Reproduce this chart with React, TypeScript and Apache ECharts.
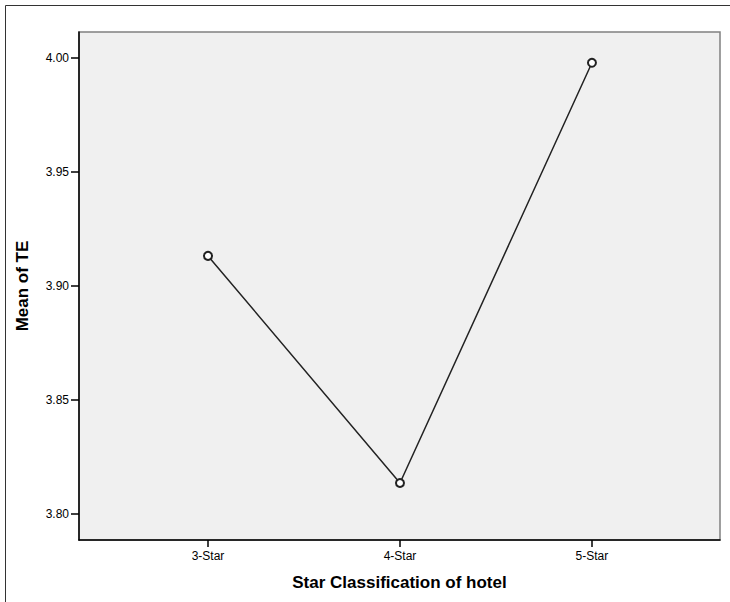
import React, { useEffect, useRef } from "react";
import * as echarts from "echarts";

const categories = ["3-Star", "4-Star", "5-Star"];
const meanTE = [3.9132, 3.8136, 3.9979];
const yTicks = [3.8, 3.85, 3.9, 3.95, 4.0];
const xTitle = "Star Classification of hotel";
const yTitle = "Mean of TE";

export default function App() {
  const ref = useRef<HTMLDivElement>(null);
  useEffect(() => {
    if (!ref.current) return;
    const chart = echarts.init(ref.current, null, { renderer: "svg" });
    const font = "'Liberation Sans', Arial, sans-serif";
    chart.setOption({
      animation: false,
      backgroundColor: "#ffffff",
      textStyle: { fontFamily: font },
      grid: {
        left: 79,
        right: 10,
        top: 32,
        bottom: 62,
        show: true,
        backgroundColor: "#f0f0f0",
        borderColor: "#808080",
        borderWidth: 1.5,
      },
      graphic: [
        {
          type: "rect",
          shape: { x: 5.5, y: 5.5, width: 900, height: 900 },
          style: { fill: "none", stroke: "#333", lineWidth: 1 },
          silent: true,
          z: -10,
        },
      ],
      xAxis: {
        type: "value",
        min: 0.328,
        max: 3.667,
        name: xTitle,
        nameLocation: "middle",
        nameGap: 34,
        nameTextStyle: { fontSize: 17, fontWeight: "bold", color: "#000", fontFamily: font, verticalAlign: "top" },
        axisLine: { show: true, onZero: false, lineStyle: { color: "#000", width: 1.5 } },
        axisTick: { show: true, length: 7, customValues: [1, 2, 3], lineStyle: { color: "#000", width: 1.5 } },
        axisLabel: {
          customValues: [1, 2, 3],
          formatter: (v: number) => categories[Math.round(v) - 1] ?? "",
          fontSize: 12,
          color: "#000",
          margin: 10,
          fontFamily: font,
        },
        splitLine: { show: false },
      },
      yAxis: {
        type: "value",
        min: 3.7886,
        max: 4.0114,
        name: yTitle,
        nameLocation: "middle",
        nameGap: 48,
        nameRotate: 90,
        nameTextStyle: { fontSize: 17, fontWeight: "bold", color: "#000", fontFamily: font },
        axisLine: { show: true, onZero: false, lineStyle: { color: "#000", width: 1.5 } },
        axisTick: { show: true, length: 8, customValues: yTicks, lineStyle: { color: "#000", width: 1.5 } },
        axisLabel: {
          customValues: yTicks,
          formatter: (v: number) => v.toFixed(2),
          fontSize: 12,
          color: "#000",
          margin: 10,
          fontFamily: font,
        },
        splitLine: { show: false },
      },
      series: [
        {
          type: "line",
          data: meanTE.map((v, i) => [i + 1, v]),
          symbol: "emptyCircle",
          symbolSize: 8,
          lineStyle: { color: "#222", width: 1.5 },
          itemStyle: { color: "#222", borderColor: "#222", borderWidth: 1.2 },
        },
      ],
    });
    return () => chart.dispose();
  }, []);
  return (
    <div
      ref={ref}
      style={{ position: "fixed", left: 0, top: 0, width: 730, height: 602 }}
    />
  );
}
